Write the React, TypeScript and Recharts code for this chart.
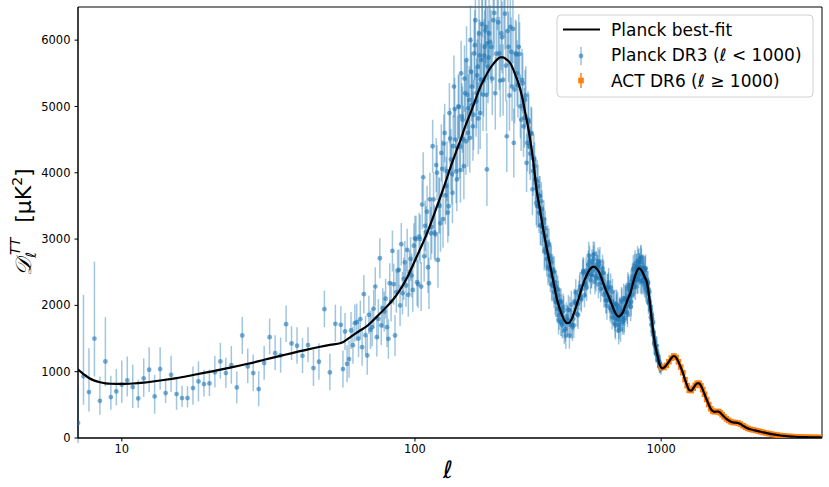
import { ComposedChart, Scatter, Line, XAxis, YAxis, ErrorBar, ReferenceArea } from "recharts";

// x axis: linear in ell up to 50, log above
const ELL_SPLIT = 50;
const LIN_STEP = 0.02224;
const toU = (ell: number) => (ell <= ELL_SPLIT ? (ell - ELL_SPLIT) * LIN_STEP : Math.log10(ell / ELL_SPLIT));
const fromU = (u: number) => (u <= 0 ? ELL_SPLIT + u / LIN_STEP : ELL_SPLIT * Math.pow(10, u));

const xTickEll = [10, 100, 1000];
const yTicks = [0, 1000, 2000, 3000, 4000, 5000, 6000];
const ellRange = [2, 4500];

// [ell, D_ell]
const bestFit: [number, number][] = [
  [2, 1030], [3, 965], [4, 905], [5, 865], [6, 840], [7, 825], [8, 818], [10, 815], [12, 822], [14, 836],
  [16, 856], [18, 878], [20, 903], [23, 950], [26, 998], [28, 1030], [30, 1064], [33, 1119], [36, 1180],
  [38, 1220], [40, 1260], [42, 1298], [44, 1337], [46, 1372], [48, 1404], [50, 1432], [55, 1530], [60, 1625],
  [64, 1690], [70, 1830], [77, 1985], [82, 2100], [87, 2235], [93, 2420], [99, 2640], [105, 2850], [112, 3090],
  [119, 3350], [127, 3640], [134, 3890], [140, 4100], [147, 4320], [153, 4490], [160, 4700], [168, 4900],
  [176, 5100], [184, 5290], [192, 5430], [200, 5550], [209, 5650], [216, 5710], [222, 5740], [228, 5740],
  [235, 5710], [244, 5650], [250, 5570], [256, 5470], [262, 5370], [268, 5250], [274, 5100], [280, 4920],
  [287, 4720], [294, 4490], [300, 4270], [305, 4050], [313, 3700], [320, 3500], [330, 3200], [344, 2836],
  [360, 2470], [378, 2083], [395, 1860], [405, 1770], [415, 1732], [425, 1745], [435, 1810], [445, 1910],
  [456, 2033], [468, 2170], [480, 2300], [492, 2410], [505, 2500], [518, 2560], [532, 2584], [546, 2555],
  [560, 2500], [570, 2430], [580, 2350], [592, 2260], [604, 2184], [620, 2080], [640, 1950], [656, 1865],
  [673, 1831], [688, 1860], [700, 1900], [712, 1975], [725, 2050], [737, 2120], [750, 2184], [765, 2310],
  [780, 2420], [795, 2510], [811, 2560], [825, 2545], [840, 2500], [858, 2425], [877, 2334], [890, 2180],
  [905, 1960], [920, 1720], [934, 1530], [950, 1360], [965, 1250], [980, 1140], [994, 1078], [1010, 1051],
  [1040, 1080], [1070, 1140], [1100, 1205], [1125, 1237], [1150, 1215], [1175, 1150], [1200, 1070],
  [1225, 985], [1250, 880], [1275, 790], [1300, 720], [1325, 715], [1350, 750], [1375, 795], [1400, 825],
  [1425, 825], [1450, 790], [1475, 730], [1500, 660], [1530, 580], [1560, 505], [1590, 440], [1620, 405],
  [1650, 395], [1680, 400], [1710, 398], [1740, 380], [1770, 350], [1800, 320], [1840, 290], [1880, 265],
  [1920, 245], [1960, 235], [2000, 232], [2050, 226], [2100, 210], [2150, 185], [2200, 163], [2250, 145],
  [2300, 132], [2400, 116], [2500, 100], [2600, 84], [2700, 71], [2850, 54], [3000, 42], [3150, 32],
  [3300, 25], [3500, 19], [3750, 14], [4000, 11], [4250, 9], [4500, 7],
];

// Planck low ell: [ell, D, err below, err above]
const planckLow: [number, number, number, number][] = [
  [2, 226, 300, 550], [3, 930, 428, 1228], [4, 693, 292, 662], [5, 1500, 572, 1160], [6, 560, 209, 368],
  [7, 1154, 377, 668], [8, 617, 191, 321], [9, 702, 211, 337], [10, 803, 276, 366], [11, 868, 241, 361],
  [12, 768, 316, 336], [13, 597, 141, 281], [14, 900, 280, 300], [15, 1029, 336, 341], [16, 627, 261, 326],
  [17, 1039, 312, 331], [18, 678, 151, 225], [19, 953, 260, 286], [20, 663, 237, 225], [21, 602, 135, 186],
  [22, 602, 140, 180], [23, 753, 251, 325], [24, 853, 301, 301], [25, 813, 186, 216], [26, 823, 190, 210],
  [27, 990, 230, 250], [28, 1155, 260, 280], [29, 979, 220, 230], [30, 1099, 280, 290], [31, 763, 240, 240],
  [32, 1546, 280, 280], [33, 1079, 250, 270], [34, 979, 270, 280], [35, 738, 260, 270], [36, 1130, 250, 260],
  [37, 1521, 260, 280], [38, 1280, 260, 270], [39, 1245, 260, 270], [40, 1717, 270, 280], [41, 1426, 250, 260],
  [42, 1391, 270, 280], [43, 1240, 260, 270], [44, 1401, 260, 270], [45, 1054, 270, 280], [46, 1150, 270, 280],
  [47, 1943, 270, 280], [48, 989, 270, 280], [49, 1722, 270, 290], [50, 1707, 270, 280],
];

// Planck ell > 50: [ell, D, err]
const planckHigh: [number, number, number][] = [
  [51, 1040, 280], [52, 1606, 280], [53, 1119, 280], [54, 1190, 280], [55, 1621, 280], [56, 1400, 280],
  [57, 1732, 280], [58, 1747, 280], [59, 1500, 280], [60, 1792, 280], [61, 1370, 280], [62, 2169, 290],
  [63, 1550, 290], [64, 1245, 290], [65, 1857, 290], [66, 1631, 290], [67, 1672, 290], [68, 1950, 290],
  [69, 2284, 290], [70, 1521, 290], [71, 1797, 300], [72, 2711, 300], [73, 1700, 300], [74, 1958, 300],
  [75, 1908, 300], [76, 2100, 300], [77, 1672, 300], [78, 1496, 300], [79, 2334, 300], [80, 2058, 300],
  [81, 2821, 310], [82, 2320, 310], [83, 1546, 310], [84, 2200, 310], [85, 2525, 310], [86, 2536, 310],
  [87, 2000, 310], [88, 2923, 320], [89, 2184, 320], [90, 2400, 320], [91, 2650, 320], [92, 2300, 320],
  [93, 2837, 320], [94, 2160, 330], [95, 2500, 330], [96, 2700, 330], [97, 2450, 330], [98, 2233, 330],
  [99, 2900, 340], [100, 3012, 340],
  [102, 2350, 360], [104, 3037, 360], [106, 2284, 370], [108, 3931, 380], [110, 3200, 380], [112, 3414, 390],
  [114, 2334, 390], [116, 3087, 400], [118, 4400, 400], [120, 3100, 410], [122, 4116, 410], [124, 2686, 420],
  [126, 3500, 420], [128, 4300, 430], [130, 3300, 430], [132, 4600, 440], [134, 3800, 440], [136, 3400, 450],
  [138, 4900, 450], [140, 4200, 460], [142, 3700, 460], [144, 5300, 470], [146, 4500, 470], [148, 3900, 480],
  [150, 5000, 480], [152, 4400, 490], [154, 5500, 490], [156, 4800, 500], [158, 4100, 500], [160, 5200, 500],
  [162, 5700, 510], [164, 4600, 510], [166, 5100, 510], [168, 6000, 520], [170, 5300, 520], [172, 4700, 520],
  [174, 5800, 530], [176, 6300, 530], [178, 5200, 530], [180, 5600, 540], [182, 6100, 540], [184, 4900, 540],
  [186, 5700, 540], [188, 6600, 550], [190, 5400, 550], [192, 5900, 550], [194, 6200, 550], [196, 4050, 550],
  [198, 5600, 550], [200, 6100, 550],
  [204, 5900, 550], [208, 6300, 550], [212, 5200, 550], [216, 6700, 550], [220, 5800, 550], [224, 6100, 550],
  [228, 5400, 540], [232, 6400, 540], [236, 4550, 540], [240, 5900, 530], [244, 6200, 530], [248, 5300, 520],
  [252, 4450, 520], [256, 5800, 510], [260, 5500, 500], [264, 5900, 490], [268, 5000, 480], [272, 5400, 470],
  [276, 4700, 460], [280, 5100, 450], [284, 4150, 440], [288, 4800, 430], [292, 4400, 420], [296, 4600, 400],
  [300, 3750, 390], [304, 4200, 380], [308, 3900, 360],
  [310, 3900, 340], [313, 3500, 330], [316, 3800, 320], [319, 3400, 310], [322, 3650, 300], [325, 3200, 300],
  [328, 3450, 290], [331, 3100, 290], [334, 3300, 280], [337, 2850, 280], [340, 3050, 270], [343, 2700, 270],
  [346, 2950, 260], [349, 2600, 260], [352, 2750, 250], [355, 2450, 250], [358, 2650, 250], [361, 2300, 240],
  [364, 2500, 240], [367, 2200, 240], [370, 2350, 230], [373, 2050, 230], [376, 2250, 230], [379, 1950, 220],
  [382, 2150, 220], [385, 1850, 220], [388, 2050, 210], [391, 1750, 210], [394, 1950, 210], [397, 1700, 200],
  [400, 1980, 200], [408, 1640, 190], [416, 1790, 220], [424, 1545, 200], [432, 2010, 210], [440, 1800, 180],
  [448, 2040, 200], [456, 1873, 190], [464, 2150, 220], [472, 2120, 200], [480, 2480, 210], [488, 2150, 180],
  [496, 2525, 200], [504, 2475, 190], [512, 2680, 220], [520, 2460, 200], [528, 2524, 210], [536, 2782, 180],
  [544, 2410, 200], [552, 2570, 190], [560, 2620, 220], [568, 2250, 200], [576, 2390, 210], [584, 2490, 180],
  [592, 2190, 200], [600, 2075, 190], [608, 2250, 220], [616, 2080, 200], [624, 2270, 210], [632, 1820, 180],
  [640, 2000, 200], [648, 1805, 190], [656, 2025, 220], [664, 1790, 200], [672, 1621, 210], [680, 1950, 180],
  [688, 1880, 200], [696, 1750, 190], [704, 2110, 220], [712, 1895, 200], [720, 2095, 210], [728, 1900, 180],
  [736, 2240, 200], [744, 2145, 190], [752, 1980, 220], [760, 2370, 200], [768, 2380, 210], [776, 2280, 180],
  [784, 2630, 200], [792, 2440, 190], [800, 2390, 220], [808, 2648, 200], [816, 2580, 210], [824, 2355, 180],
  [832, 2660, 200], [840, 2460, 190], [848, 2530, 220], [856, 2320, 200], [864, 2560, 210], [872, 2270, 180],
  [880, 2330, 190], [888, 2040, 170], [896, 2200, 180], [904, 1940, 160], [912, 1710, 170], [920, 1800, 150],
  [928, 1750, 160], [936, 1420, 140], [944, 1460, 150], [952, 1270, 130], [960, 1390, 140], [968, 1180, 120],
  [976, 1230, 120], [984, 1080, 100], [992, 1115, 100], [999, 1045, 90],
];

// Planck ell > 100, bins in between the ones above: [ell, D, err]
const planckDense: [number, number, number][] = [
  [101, 3000, 350], [103, 2320, 360], [105, 3000, 370], [107, 3520, 370], [109, 2740, 380], [111, 3110, 390],
  [113, 2575, 390], [115, 3600, 400], [117, 3180, 400], [119, 3600, 410], [121, 3070, 410], [123, 4000, 420],
  [125, 3520, 420], [127, 3240, 430], [129, 4060, 430], [131, 4440, 440], [133, 3660, 440], [135, 4025, 450],
  [137, 3495, 450], [139, 4515, 460], [141, 3980, 460], [143, 4400, 470], [145, 4960, 470], [147, 4020, 480],
  [149, 4380, 480], [151, 4990, 490], [153, 4040, 490], [155, 4850, 500], [157, 4510, 500], [159, 5420, 500],
  [161, 4475, 510], [163, 5175, 510], [165, 4975, 510], [167, 4525, 520], [169, 5525, 520], [171, 5025, 520],
  [173, 4875, 530], [175, 5925, 530], [177, 5075, 530], [179, 5470, 540], [181, 4820, 540], [183, 5770, 540],
  [185, 5410, 540], [187, 6245, 550], [189, 5180, 550], [191, 5765, 550], [193, 6145, 550], [195, 5175, 550],
  [197, 5950, 550], [199, 5740, 550],
  [202, 5975, 550], [206, 5420, 550], [210, 6410, 550], [214, 5795, 550], [218, 6270, 550], [222, 5390, 550],
  [226, 6042, 540], [230, 6585, 540], [234, 5615, 540], [238, 6140, 530], [242, 5165, 530], [246, 5825, 520],
  [250, 6170, 520], [254, 5255, 510], [258, 5785, 500], [262, 5320, 490], [266, 5790, 480], [270, 4800, 470],
  [274, 5350, 460], [278, 4830, 450], [282, 5165, 440], [286, 4450, 430], [290, 4770, 420], [294, 4290, 400],
  [298, 4590, 390], [302, 4030, 380], [306, 4100, 360],
  [311, 3540, 330], [314, 3870, 320], [317, 3490, 310], [320, 3650, 300], [323, 3210, 300], [326, 3570, 290],
  [329, 3180, 290], [332, 3240, 280], [335, 2810, 280], [338, 3160, 270], [341, 2790, 270], [344, 2896, 260],
  [347, 2565, 260], [350, 2915, 250], [353, 2545, 250], [356, 2700, 250], [359, 2315, 240], [362, 2535, 240],
  [365, 2340, 240], [368, 2510, 230], [371, 2090, 230], [374, 2290, 230], [377, 2045, 220], [380, 2230, 220],
  [383, 1780, 220], [386, 2070, 210], [389, 1910, 210], [392, 2045, 210], [395, 1730, 200], [398, 1895, 200],
  [404, 1615, 200], [412, 1835, 210], [420, 1935, 220], [428, 1705, 200], [436, 1675, 210], [444, 2060, 190],
  [452, 2030, 200], [460, 1855, 210], [468, 2285, 220], [476, 2245, 200], [484, 2500, 210], [492, 2310, 190],
  [500, 2430, 200], [508, 2750, 210], [516, 2385, 220], [524, 2648, 200], [532, 2694, 210], [540, 2442, 190],
  [548, 2568, 200], [556, 2315, 210], [564, 2660, 220], [572, 2340, 200], [580, 2490, 210], [588, 2260, 190],
  [596, 2075, 200], [604, 2264, 210], [612, 2345, 220], [620, 1960, 200], [628, 2060, 210], [636, 1895, 190],
  [644, 2028, 200], [652, 1695, 210], [660, 2002, 220], [668, 1784, 200], [676, 1895, 210], [684, 1640, 190],
  [692, 2055, 200], [700, 1910, 210], [708, 1810, 220], [716, 2090, 200], [724, 1985, 210], [732, 2310, 190],
  [740, 2025, 200], [748, 2218, 210], [756, 2055, 220], [764, 2435, 200], [772, 2350, 210], [780, 2590, 190],
  [788, 2380, 200], [796, 2565, 210], [804, 2400, 220], [812, 2660, 200], [820, 2522, 210], [828, 2723, 190],
  [836, 2380, 200], [844, 2545, 210], [852, 2380, 220], [860, 2550, 200], [868, 2330, 210], [876, 2220, 190],
  [884, 2340, 180], [892, 2080, 180], [900, 2050, 170], [908, 1820, 170], [916, 1850, 160], [924, 1610, 160],
  [932, 1595, 150], [940, 1435, 150], [948, 1400, 140], [956, 1280, 130], [964, 1285, 120], [972, 1180, 120],
  [980, 1160, 110], [988, 1080, 100], [996, 1080, 90],
];

// Planck 400 <= ell < 1000, remaining bins of the dense band: [ell, D, err]
const planckBand: [number, number, number][] = [
  [402, 1930, 210], [410, 1542, 200], [418, 1773, 220], [426, 1930, 200], [434, 1712, 210], [442, 1700, 190],
  [450, 2195, 200], [458, 2025, 210], [466, 2235, 220], [474, 2092, 200], [482, 2520, 210], [490, 2332, 190],
  [498, 2268, 200], [506, 2618, 210], [514, 2558, 220], [522, 2455, 200], [530, 2754, 210], [538, 2358, 190],
  [546, 2615, 200], [554, 2662, 210], [562, 2405, 220], [570, 2420, 200], [578, 2555, 210], [586, 2155, 190],
  [594, 2298, 200], [602, 1995, 210], [610, 2278, 220], [618, 2125, 200], [626, 1935, 210], [634, 2208, 190],
  [642, 1900, 200], [650, 1725, 210], [658, 1940, 220], [666, 1997, 200], [674, 1702, 210], [682, 1845, 190],
  [690, 2077, 200], [698, 1805, 210], [706, 1775, 220], [714, 2108, 200], [722, 2075, 210], [730, 1860, 190],
  [738, 2275, 200], [746, 2146, 210], [754, 2305, 220], [762, 2150, 200], [770, 2545, 210], [778, 2340, 190],
  [786, 2280, 200], [794, 2568, 210], [802, 2675, 220], [810, 2459, 200], [818, 2577, 210], [826, 2710, 190],
  [834, 2365, 200], [842, 2562, 210], [850, 2410, 220], [858, 2535, 200], [866, 2260, 210], [874, 2380, 190],
  [882, 2195, 180], [890, 2240, 180], [898, 2010, 170], [906, 1980, 170], [914, 1780, 160], [922, 1730, 160],
  [930, 1548, 150], [938, 1508, 150], [946, 1380, 140], [954, 1335, 130], [962, 1258, 120], [970, 1225, 120],
  [978, 1145, 110], [986, 1120, 100], [994, 1068, 90],
];

// ACT ell >= 1000: [ell, D, err]
const act: [number, number, number][] = [
  [1000, 1060, 30], [1025, 1065, 30], [1050, 1095, 30], [1075, 1150, 30], [1100, 1205, 30], [1125, 1237, 30],
  [1150, 1215, 30], [1175, 1150, 28], [1200, 1070, 28], [1225, 985, 26], [1250, 880, 25], [1275, 790, 24],
  [1300, 720, 22], [1325, 715, 22], [1350, 750, 22], [1375, 795, 22], [1400, 825, 22], [1425, 825, 22],
  [1450, 790, 20], [1475, 730, 20], [1500, 660, 18], [1530, 580, 17], [1560, 505, 16], [1590, 440, 15],
  [1620, 405, 14], [1650, 395, 14], [1680, 400, 14], [1710, 398, 13], [1740, 380, 13], [1770, 350, 12],
  [1800, 320, 12], [1840, 290, 11], [1880, 265, 11], [1920, 245, 10], [1960, 235, 10], [2000, 232, 10],
  [2050, 226, 10], [2100, 210, 9], [2150, 185, 9], [2200, 163, 8], [2250, 145, 8], [2300, 132, 8],
  [2360, 122, 7], [2420, 114, 7], [2480, 104, 7], [2540, 94, 6], [2600, 84, 6], [2670, 74, 6], [2740, 66, 6],
  [2810, 58, 5], [2880, 51, 5], [2960, 44, 5], [3040, 38, 5], [3120, 33, 5], [3200, 29, 4], [3300, 25, 4],
  [3400, 22, 4], [3500, 19, 4], [3600, 17, 4], [3700, 15, 4], [3800, 13, 4], [3900, 12, 4], [4000, 11, 4],
  [4100, 10, 4], [4200, 9, 4], [4300, 8, 4], [4400, 8, 4], [4500, 7, 4],
];

const fitData = bestFit.map(([ell, d]) => ({ u: toU(ell), d }));
const planckData = [
  ...planckLow.map(([ell, d, lo, hi]) => ({ u: toU(ell), d, e: [lo, hi] })),
  ...[...planckHigh, ...planckDense, ...planckBand].map(([ell, d, e]) => ({ u: toU(ell), d, e: [e, e] })),
];
const actData = act.map(([ell, d, e]) => ({ u: toU(ell), d, e: [e, e] }));

const BLUE = "#1f77b4";
const ORANGE = "#ff7f0e";
const FONT = "'DejaVu Sans', sans-serif";

const planckDot = (p: any) => <circle cx={p.cx} cy={p.cy} r={2.4} fill={BLUE} fillOpacity={0.6} />;
const actSquare = (p: any) => <rect x={p.cx - 2.8} y={p.cy - 2.8} width={5.6} height={5.6} fill={ORANGE} />;

const uMin = toU(ellRange[0]);
const uMax = toU(ellRange[1]);

export default function App() {
  return (
    <div style={{ position: "absolute", left: 0, top: 0, width: 829, height: 487, background: "#fff" }}>
      <ComposedChart width={829} height={487} margin={{ top: 7, right: 7, bottom: 0, left: 0 }}>
        <XAxis
          type="number"
          dataKey="u"
          domain={[uMin, uMax]}
          allowDataOverflow
          ticks={xTickEll.map(toU)}
          interval={0}
          tickFormatter={(v: number) => String(Math.round(fromU(v)))}
          height={49}
          stroke="#000"
          tickSize={3.5}
          tickMargin={3}
          tick={{ fill: "#000", fontSize: 11.5, fontFamily: FONT }}
        />
        <YAxis
          type="number"
          dataKey="d"
          domain={[0, 6500]}
          allowDataOverflow
          ticks={yTicks}
          interval={0}
          width={78}
          stroke="#000"
          tickSize={3.5}
          tickMargin={4}
          tick={{ fill: "#000", fontSize: 11.5, fontFamily: FONT }}
        />
        <ReferenceArea x1={uMin} x2={uMax} y1={0} y2={6500} fill="none" stroke="#000" strokeWidth={1} />
        <Scatter data={planckData} shape={planckDot} isAnimationActive={false}>
          <ErrorBar dataKey="e" direction="y" width={0} stroke="rgba(31,119,180,0.42)" strokeWidth={1.5} />
        </Scatter>
        <Scatter data={actData} shape={actSquare} isAnimationActive={false}>
          <ErrorBar dataKey="e" direction="y" width={0} stroke={ORANGE} strokeWidth={1.5} />
        </Scatter>
        <Line
          data={fitData}
          dataKey="d"
          type="monotone"
          stroke="#000"
          strokeWidth={2.2}
          dot={false}
          activeDot={false}
          isAnimationActive={false}
          zIndex={700}
        />
      </ComposedChart>
      <svg width={829} height={487} style={{ position: "absolute", left: 0, top: 0, pointerEvents: "none" }}>
        <rect x={557} y={15} width={256} height={82} rx={4} fill="#fff" fillOpacity={0.8} stroke="#d0d0d0" />
        <line x1={563} x2={600} y1={29.5} y2={29.5} stroke="#000" strokeWidth={2.2} />
        <line x1={581} x2={581} y1={47} y2={65} stroke="rgba(31,119,180,0.45)" strokeWidth={1.5} />
        <circle cx={581} cy={56} r={2.4} fill={BLUE} fillOpacity={0.6} />
        <line x1={581} x2={581} y1={73} y2={88} stroke={ORANGE} strokeWidth={1.5} />
        <rect x={578.2} y={77.7} width={5.6} height={5.6} fill={ORANGE} />
        <g fontFamily={FONT} fontSize={17} fill="#000">
          <text x={611} y={35.5}>Planck best-fit</text>
          <text x={611} y={61}>
            Planck DR3 (<tspan fontStyle="italic">ℓ</tspan> &lt; 1000)
          </text>
          <text x={611} y={86.5}>
            ACT DR6 (<tspan fontStyle="italic">ℓ</tspan> ≥ 1000)
          </text>
        </g>
        <text x={448} y={478} textAnchor="middle" fontFamily={FONT} fontStyle="italic" fontSize={24}>
          ℓ
        </text>
        <text transform="translate(31,222) rotate(-90)" textAnchor="middle" fontFamily={FONT} fontSize={22}>
          <tspan fontFamily="'DejaVu Serif', serif" fontStyle="italic">𝒟</tspan>
          <tspan fontSize={14} fontStyle="italic" dy={5}>ℓ</tspan>
          <tspan fontSize={14} fontStyle="italic" dx={-3} dy={-16}>TT</tspan>
          <tspan dy={11} dx={15}>[μK</tspan>
          <tspan fontSize={14} dy={-9}>2</tspan>
          <tspan dy={9}>]</tspan>
        </text>
      </svg>
    </div>
  );
}
